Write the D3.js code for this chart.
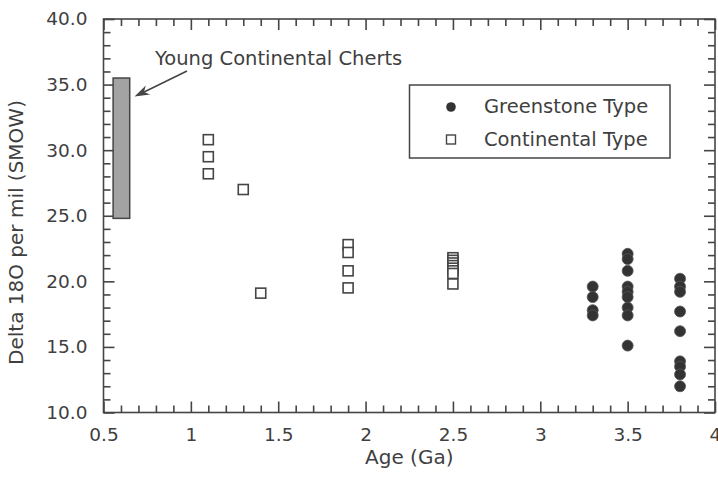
<!DOCTYPE html>
<html>
<head>
<meta charset="utf-8">
<script src="https://cdn.jsdelivr.net/npm/d3@7"></script>
<style>
  body { margin: 0; background: #fff; }
  text { font-family: "DejaVu Sans", sans-serif; fill: #3f3f3f; }
</style>
</head>
<body>
<div id="chart"></div>
<script>
// Greenstone type (filled circles): age in Ga and delta 18O values at that age
const greenstoneAges = [3.3, 3.5, 3.8];
const greenstoneValues = [
  [19.6, 18.8, 17.8, 17.4],
  [22.1, 21.7, 20.8, 19.6, 19.2, 18.8, 18.0, 17.4, 15.1],
  [20.2, 19.6, 19.2, 17.7, 16.2, 13.9, 13.5, 12.9, 12.0]
];

// Continental type (open squares)
const continentalAges = [1.1, 1.3, 1.4, 1.9, 2.5];
const continentalValues = [
  [30.8, 29.5, 28.2],
  [27.0],
  [19.1],
  [22.8, 22.2, 20.8, 19.5],
  [21.8, 21.6, 21.4, 21.2, 21.0, 20.8, 20.6, 19.8]
];

// Young continental cherts range (age span, value span)
const chertAge = [0.555, 0.65];
const chertRange = [24.8, 35.5];

const xMajorTicks = [0.5, 1, 1.5, 2, 2.5, 3, 3.5, 4];
const yMajorTicks = [10, 15, 20, 25, 30, 35, 40];

const width = 718, height = 477;
const margin = { top: 19, right: 3, bottom: 64.5, left: 103.5 };
const ink = "#454545";

const svg = d3.select("#chart").append("svg")
  .attr("width", width)
  .attr("height", height);

const x = d3.scaleLinear().domain([0.5, 4]).range([margin.left, width - margin.right]);
const y = d3.scaleLinear().domain([10, 40]).range([height - margin.bottom, margin.top]);

const plotL = x(0.5), plotR = x(4);
const plotB = y(10), plotT = y(40);

// minor ticks every 0.1 Ga and every 1 per mil
const xMinor = d3.range(5, 41).map(d => d / 10).filter(d => !xMajorTicks.includes(d));
const yMinor = d3.range(10, 41).filter(d => !yMajorTicks.includes(d));

// frame
svg.append("rect")
  .attr("x", plotL).attr("y", plotT)
  .attr("width", plotR - plotL).attr("height", plotB - plotT)
  .attr("fill", "none").attr("stroke", ink).attr("stroke-width", 1.6);

// axes: labels on bottom/left, inward ticks on all four sides
function tickAxis(axisFn, scale, values, size, labels, fmt, pad) {
  return axisFn(scale).tickValues(values).tickSizeInner(-size).tickSizeOuter(0)
    .tickPadding(pad).tickFormat(labels ? fmt : () => "");
}
const sides = [
  { fn: d3.axisBottom, s: x, tr: `translate(0,${plotB})`, maj: xMajorTicks, min: xMinor, lab: true, fmt: d3.format(""), pad: 15 },
  { fn: d3.axisTop, s: x, tr: `translate(0,${plotT})`, maj: xMajorTicks, min: xMinor, lab: false },
  { fn: d3.axisLeft, s: y, tr: `translate(${plotL},0)`, maj: yMajorTicks, min: yMinor, lab: true, fmt: d3.format(".1f"), pad: 16 },
  { fn: d3.axisRight, s: y, tr: `translate(${plotR},0)`, maj: yMajorTicks, min: yMinor, lab: false }
];
sides.forEach(d => {
  const gMin = svg.append("g").attr("transform", d.tr)
    .call(tickAxis(d.fn, d.s, d.min, 7, false, null, 0));
  const gMaj = svg.append("g").attr("transform", d.tr)
    .call(tickAxis(d.fn, d.s, d.maj, 11, d.lab, d.fmt, d.pad || 0));
  [gMin, gMaj].forEach(g => {
    g.select(".domain").remove();
    g.selectAll(".tick line")
      .attr("stroke", ink)
      .attr("stroke-width", 1.6);
  });
  gMaj.selectAll(".tick text")
    .style("font-family", "DejaVu Sans, sans-serif")
    .style("font-size", "18.5px");
});

// axis titles
svg.append("text")
  .attr("x", (plotL + plotR) / 2).attr("y", 464)
  .attr("text-anchor", "middle")
  .style("font-size", "20px")
  .text("Age (Ga)");

svg.append("text")
  .attr("transform", "rotate(-90)")
  .attr("x", -232.5).attr("y", 23)
  .attr("text-anchor", "middle")
  .style("font-size", "20px")
  .text("Delta 18O per mil (SMOW)");

// young continental cherts bar
svg.append("rect")
  .attr("x", x(chertAge[0])).attr("y", y(chertRange[1]))
  .attr("width", x(chertAge[1]) - x(chertAge[0]))
  .attr("height", y(chertRange[0]) - y(chertRange[1]))
  .attr("fill", "#a3a3a3").attr("stroke", ink).attr("stroke-width", 1.5);

// annotation + arrow
svg.append("line")
  .attr("x1", 187).attr("y1", 71)
  .attr("x2", 140).attr("y2", 94)
  .attr("stroke", ink).attr("stroke-width", 1.6);

// arrowhead as a polygon along the line direction
const ang = Math.atan2(96.5 - 71, 134.5 - 187);
const tip = [134.5, 96.5];
const hl = 15, hw = 5;
const base = [tip[0] - hl * Math.cos(ang), tip[1] - hl * Math.sin(ang)];
svg.append("path")
  .attr("d", `M${tip[0]},${tip[1]}` +
    `L${base[0] + hw * Math.sin(ang)},${base[1] - hw * Math.cos(ang)}` +
    `L${tip[0] - 0.7 * hl * Math.cos(ang)},${tip[1] - 0.7 * hl * Math.sin(ang)}` +
    `L${base[0] - hw * Math.sin(ang)},${base[1] + hw * Math.cos(ang)}Z`)
  .attr("fill", ink);

svg.append("text")
  .attr("x", 155).attr("y", 65)
  .style("font-size", "19.5px")
  .text("Young Continental Cherts");

// data: continental squares
const sq = 10;
const continental = continentalAges.flatMap((a, i) => continentalValues[i].map(v => ({ age: a, value: v })));
svg.append("g").selectAll("rect")
  .data(continental)
  .join("rect")
  .attr("x", d => x(d.age) - sq / 2)
  .attr("y", d => y(d.value) - sq / 2)
  .attr("width", sq).attr("height", sq)
  .attr("fill", "#fff")
  .attr("stroke", ink).attr("stroke-width", 1.6);

// data: greenstone circles
const greenstone = greenstoneAges.flatMap((a, i) => greenstoneValues[i].map(v => ({ age: a, value: v })));
svg.append("g").selectAll("circle")
  .data(greenstone)
  .join("circle")
  .attr("cx", d => x(d.age))
  .attr("cy", d => y(d.value))
  .attr("r", 5.5)
  .attr("fill", "#333")
  .attr("stroke", "#555").attr("stroke-width", 0.8);

// legend
const legend = svg.append("g");
legend.append("rect")
  .attr("x", 409.5).attr("y", 85)
  .attr("width", 260.5).attr("height", 73)
  .attr("fill", "#fff").attr("stroke", ink).attr("stroke-width", 1.5);
legend.append("circle")
  .attr("cx", 451).attr("cy", 107).attr("r", 4.8)
  .attr("fill", "#333");
legend.append("rect")
  .attr("x", 446.5).attr("y", 135).attr("width", 9).attr("height", 9)
  .attr("fill", "#fff").attr("stroke", ink).attr("stroke-width", 1.4);
legend.append("text")
  .attr("x", 484).attr("y", 113)
  .style("font-size", "19.5px")
  .text("Greenstone Type");
legend.append("text")
  .attr("x", 484).attr("y", 146)
  .style("font-size", "19.5px")
  .text("Continental Type");
</script>
</body>
</html>
